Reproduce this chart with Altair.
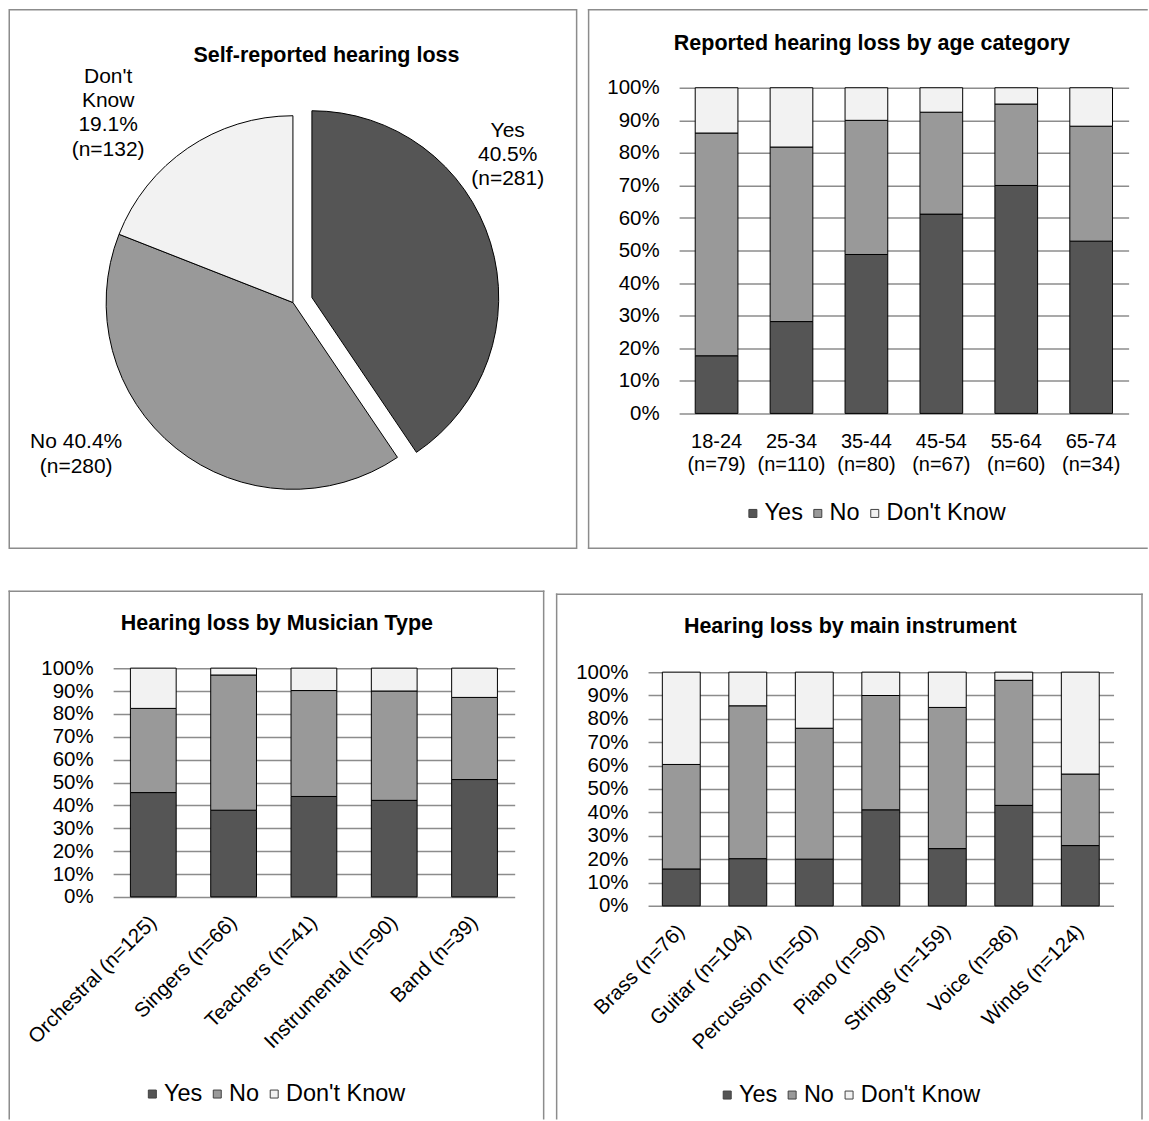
import altair as alt
import pandas as pd

FONT = "Liberation Sans"
SERIES = ["Yes", "No", "Don't Know"]
FILLS = ["#555555", "#999999", "#f2f2f2"]
EDGE = "#8c8c8c"

# ---- Pie: self-reported hearing loss ----
pie_counts = [281, 280, 132]
pie_pcts = [40.5, 40.4, 19.1]

# ---- Age category ----
age_groups = ["18-24", "25-34", "35-44", "45-54", "55-64", "65-74"]
age_n = [79, 110, 80, 67, 60, 34]
age_yes = [17.7, 28.2, 48.8, 61.2, 70.0, 52.9]
age_no = [68.4, 53.6, 41.2, 31.3, 25.0, 35.3]
age_dk = [13.9, 18.2, 10.0, 7.5, 5.0, 11.8]

# ---- Musician type ----
type_names = ["Orchestral", "Singers", "Teachers", "Instrumental", "Band"]
type_n = [125, 66, 41, 90, 39]
type_yes = [45.6, 37.9, 43.9, 42.2, 51.3]
type_no = [36.8, 59.1, 46.3, 47.8, 35.9]
type_dk = [17.6, 3.0, 9.8, 10.0, 12.8]

# ---- Main instrument ----
inst_names = ["Brass", "Guitar", "Percussion", "Piano", "Strings", "Voice", "Winds"]
inst_n = [76, 104, 50, 90, 159, 86, 124]
inst_yes = [15.8, 20.2, 20.0, 41.1, 24.5, 43.0, 25.8]
inst_no = [44.7, 65.4, 56.0, 48.9, 60.4, 53.5, 30.6]
inst_dk = [39.5, 14.4, 24.0, 10.0, 15.1, 3.5, 43.6]

ONE = pd.DataFrame({"k": [0]})


def color_scale():
    return alt.Scale(domain=SERIES, range=FILLS)


def long_df(cats, yes, no, dk):
    rows = []
    for i, c in enumerate(cats):
        for j, (s, v) in enumerate(zip(SERIES, (yes[i], no[i], dk[i]))):
            rows.append({"cat": c, "series": s, "rank": j, "value": v})
    return pd.DataFrame(rows)


def rule(x, x2, y, y2):
    return alt.Chart(ONE).mark_rule(
        color=EDGE, strokeWidth=1.5, strokeCap="square"
    ).encode(x=alt.value(x), x2=alt.value(x2), y=alt.value(y), y2=alt.value(y2))


def text(t, x, y, size=21, weight="normal"):
    return alt.Chart(ONE).mark_text(
        text=t, font=FONT, fontSize=size, fontWeight=weight, color="black",
        align="center", baseline="middle", lineBreak="\n", lineHeight=24.3,
    ).encode(x=alt.value(x), y=alt.value(y))


def y_axis(offset=0):
    return alt.Axis(
        values=list(range(0, 101, 10)), labelExpr="datum.value + '%'",
        grid=True, gridColor=EDGE, gridWidth=1.5, domain=False, ticks=False,
        labelPadding=20, labelFont=FONT, labelFontSize=20.5, labelColor="black",
        offset=offset,
    )


def bar_panel(cats, yes, no, dk, w, h, xrange, yrange, yoff, xaxis, title, tpos, lpos, edges):
    df = long_df(cats, yes, no, dk)
    bars = alt.Chart(df).mark_bar(stroke="black", strokeWidth=1).encode(
        x=alt.X("cat:N", sort=cats, title=None, axis=xaxis,
                scale=alt.Scale(paddingInner=0.43, paddingOuter=0.215, range=xrange)),
        y=alt.Y("value:Q", stack="zero", title=None,
                scale=alt.Scale(domain=[0, 100], nice=False, range=yrange), axis=y_axis(yoff)),
        color=alt.Color("series:N", scale=color_scale(), legend=alt.Legend(
            orient="none", legendX=lpos[0], legendY=lpos[1], direction="horizontal",
            title=None, symbolType="square", symbolSize=64, symbolStrokeColor="#404040",
            symbolStrokeWidth=1, labelFont=FONT, labelFontSize=23.5, labelColor="black",
            labelOffset=0, columnPadding=3, padding=0)),
        order=alt.Order("rank:Q", sort="ascending"),
    )
    layers = [bars, text(title, tpos[0], tpos[1], size=21.5, weight="bold")] + [rule(*e) for e in edges]
    return alt.layer(*layers).properties(width=w, height=h)


# ---------- Panel 1: pie (origin at the panel-3 plot column) ----------
pie_df = pd.DataFrame({"series": SERIES, "count": pie_counts, "rank": [0, 1, 2]})
pie_base = alt.Chart(pie_df).encode(
    theta=alt.Theta("count:Q", stack=True),
    order=alt.Order("rank:Q", sort="ascending"),
    color=alt.Color("series:N", scale=color_scale(), legend=None),
)
pie_rest = pie_base.mark_arc(outerRadius=187, stroke="black", strokeWidth=1).encode(
    x=alt.value(180), y=alt.value(215),
    opacity=alt.when(alt.datum.series == "Yes").then(alt.value(0)).otherwise(alt.value(1)),
)
pie_yes = pie_base.mark_arc(outerRadius=187, stroke="black", strokeWidth=1).encode(
    x=alt.value(199), y=alt.value(210),
    opacity=alt.when(alt.datum.series == "Yes").then(alt.value(1)).otherwise(alt.value(0)),
)
pie_border = alt.Chart(ONE).mark_rect(fillOpacity=0, stroke=EDGE, strokeWidth=1.5).encode(
    x=alt.value(-104), x2=alt.value(464), y=alt.value(-78), y2=alt.value(461))

lbl_yes = f"{SERIES[0]}\n{pie_pcts[0]}%\n(n={pie_counts[0]})"
lbl_no = f"{SERIES[1]} {pie_pcts[1]}%\n(n={pie_counts[1]})"
lbl_dk = "\n".join(SERIES[2].split(" ")) + f"\n{pie_pcts[2]}%\n(n={pie_counts[2]})"

pie_panel = alt.layer(
    pie_border, pie_rest, pie_yes,
    text("Self-reported hearing loss", 213.5, -32, size=21.5, weight="bold"),
    text(lbl_yes, 395, 43),
    text(lbl_dk, -5, -11),
    text(lbl_no, -37, 355),
).properties(width=402, height=326)

# ---------- Panel 2: age (plot starts 31.1 px right of the column origin) ----------
age_cats = [f"{g}\n(n={n})" for g, n in zip(age_groups, age_n)]
age_axis = alt.Axis(
    labelAngle=0, labelExpr="split(datum.label, '\\n')", labelLineHeight=23,
    labelPadding=18, ticks=False, domain=False, labelFont=FONT, labelFontSize=20,
    labelColor="black", labelLimit=0, labelOverlap=False, labelBaseline="top",
    labelAlign="center",
)
age_panel = bar_panel(
    age_cats, age_yes, age_no, age_dk, 481.1, 326, [31.1, 481.1], [326, 0], -31.1, age_axis,
    "Reported hearing loss by age category", (224.1, -44), (93.2, 414),
    [(-59.5, -59.5, -78, 461), (-59.5, 499.5, -78, -78), (-59.5, 499.5, 461, 461)],
)


def rot_axis():
    return alt.Axis(
        labelAngle=-45, labelAlign="right", labelBaseline="middle", labelPadding=22,
        ticks=False, domain=False, labelFont=FONT, labelFontSize=20.5,
        labelColor="black", labelLimit=0, labelOverlap=False,
    )


# ---------- Panel 3: musician type ----------
type_cats = [f"{a} (n={n})" for a, n in zip(type_names, type_n)]
type_panel = bar_panel(
    type_cats, type_yes, type_no, type_dk, 402, 229, [0, 402], [229, 0], 0, rot_axis(),
    "Hearing loss by Musician Type", (164, -44), (27.5, 414.25),
    [(-104, -104, -77, 451), (431, 431, -77, 451), (-104, 431, -77, -77)],
)

# ---------- Panel 4: main instrument ----------
inst_cats = [f"{a} (n={n})" for a, n in zip(inst_names, inst_n)]
inst_panel = bar_panel(
    inst_cats, inst_yes, inst_no, inst_dk, 466, 238, [0, 466], [238, 4], 0, rot_axis(),
    "Hearing loss by main instrument", (202.5, -41), (67.5, 415.25),
    [(-91.5, -91.5, -74, 451), (494.5, 494.5, -74, 451), (-91.5, 494.5, -74, -74)],
)

chart = alt.concat(
    pie_panel, age_panel, type_panel, inst_panel,
    columns=2, spacing={"row": 255, "column": 133.5}, bounds="flush",
).resolve_scale(color="independent").resolve_legend(color="independent").properties(
    padding={"left": 7.25, "top": 7.25, "right": 0, "bottom": 0}
).configure(font=FONT).configure_view(stroke="transparent")

chart.save("out.html", embed_options={"renderer": "svg", "actions": False})
